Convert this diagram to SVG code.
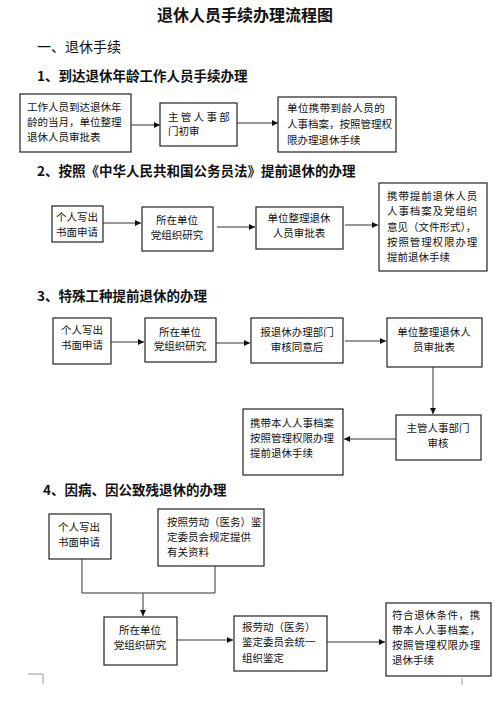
<svg xmlns="http://www.w3.org/2000/svg" width="500" height="702" viewBox="0 0 500 702">
<style>
.bx{fill:#fff;stroke:#222;stroke-width:1.2}
.t{font-family:"Noto Sans CJK SC","Liberation Sans",sans-serif;font-size:10.5px;fill:#111}
.c{text-anchor:middle}
.h{font-family:"Noto Sans CJK SC","Liberation Serif",serif;font-weight:bold;font-size:13.5px;fill:#111}
.ln{fill:none;stroke:#333;stroke-width:1}
</style>
<defs>
<marker id="ar" viewBox="0 0 10 10" refX="10" refY="5" markerWidth="6" markerHeight="6" markerUnits="userSpaceOnUse" orient="auto">
<path d="M0,0 L10,5 L0,10 z" fill="#111"/>
</marker>
</defs>
<rect width="500" height="702" fill="#fff"/>
<text x="245" y="21" text-anchor="middle" font-family="Noto Sans CJK SC,sans-serif" font-weight="bold" font-size="16" fill="#111">退休人员手续办理流程图</text>
<text x="37" y="52" font-family="Noto Sans CJK SC,sans-serif" font-size="14" fill="#111">一、退休手续</text>
<text class="h" x="37" y="81">1、到达退休年龄工作人员手续办理</text>
<text class="h" x="37" y="176">2、按照《中华人民共和国公务员法》提前退休的办理</text>
<text class="h" x="37" y="301">3、特殊工种提前退休的办理</text>
<text class="h" x="43" y="495">4、因病、因公致残退休的办理</text>

<g id="s1n1"><rect class="bx" x="20" y="94" width="111" height="58"/>
<text class="t" x="27" y="111">工作人员到达退休年</text><text class="t" x="27" y="126">龄的当月，单位整理</text><text class="t" x="27" y="141">退休人员审批表</text></g>
<g id="s1n2"><rect class="bx" x="160" y="103" width="77" height="43"/>
<text class="t" x="168" y="121" letter-spacing="2.3">主管人事部</text><text class="t" x="168" y="135">门初审</text></g>
<g id="s1n3"><rect class="bx" x="278" y="97" width="118" height="55"/>
<text class="t" x="287" y="112" letter-spacing="0.4">单位携带到龄人员的</text><text class="t" x="287" y="128">人事档案，按照管理权</text><text class="t" x="287" y="144">限办理退休手续</text></g>

<g id="s2n1"><rect class="bx" x="52" y="206" width="51" height="36"/>
<text class="t c" x="77" y="221">个人写出</text><text class="t c" x="77" y="236">书面申请</text></g>
<g id="s2n2"><rect class="bx" x="142" y="207" width="71" height="44"/>
<text class="t c" x="177" y="224">所在单位</text><text class="t c" x="177" y="239">党组织研究</text></g>
<g id="s2n3"><rect class="bx" x="256" y="207" width="87" height="42"/>
<text class="t c" x="299" y="222">单位整理退休</text><text class="t c" x="299" y="237">人员审批表</text></g>
<g id="s2n4"><rect class="bx" x="379" y="183" width="108" height="88"/>
<text class="t" x="387" y="200" letter-spacing="0.9">携带提前退休人员</text><text class="t" x="387" y="215" letter-spacing="0.9">人事档案及党组织</text><text class="t" x="387" y="231">意见（文件形式），</text><text class="t" x="387" y="246" letter-spacing="0.9">按照管理权限办理</text><text class="t" x="387" y="261">提前退休手续</text></g>

<g id="s3n1"><rect class="bx" x="53" y="318" width="58" height="46"/>
<text class="t c" x="82" y="334">个人写出</text><text class="t c" x="82" y="349">书面申请</text></g>
<g id="s3n2"><rect class="bx" x="145" y="318" width="71" height="44"/>
<text class="t c" x="180" y="336">所在单位</text><text class="t c" x="180" y="350">党组织研究</text></g>
<g id="s3n3"><rect class="bx" x="251" y="318" width="92" height="45"/>
<text class="t c" x="297" y="336">报退休办理部门</text><text class="t c" x="297" y="351">审核同意后</text></g>
<g id="s3n4"><rect class="bx" x="387" y="318" width="95" height="49"/>
<text class="t c" x="434" y="336">单位整理退休人</text><text class="t c" x="434" y="351">员审批表</text></g>
<g id="s3n5"><rect class="bx" x="396" y="415" width="85" height="45"/>
<text class="t c" x="438" y="432">主管人事部门</text><text class="t c" x="438" y="447">审核</text></g>
<g id="s3n6"><rect class="bx" x="243" y="409" width="100" height="66"/>
<text class="t" x="250" y="427">携带本人人事档案</text><text class="t" x="250" y="442">按照管理权限办理</text><text class="t" x="250" y="457">提前退休手续</text></g>

<g id="s4n1"><rect class="bx" x="49" y="514" width="62" height="45"/>
<text class="t c" x="79" y="531">个人写出</text><text class="t c" x="79" y="546">书面申请</text></g>
<g id="s4n2"><rect class="bx" x="158" y="509" width="106" height="57"/>
<text class="t" x="167" y="526">按照劳动（医务）鉴</text><text class="t" x="167" y="541">定委员会规定提供</text><text class="t" x="167" y="556">有关资料</text></g>
<g id="s4n3"><rect class="bx" x="104" y="617" width="73" height="48"/>
<text class="t c" x="140" y="634">所在单位</text><text class="t c" x="140" y="649">党组织研究</text></g>
<g id="s4n4"><rect class="bx" x="234" y="616" width="93" height="55"/>
<text class="t" x="242" y="631">报劳动（医务）</text><text class="t" x="242" y="646">鉴定委员会统一</text><text class="t" x="242" y="662">组织鉴定</text></g>
<g id="s4n5"><rect class="bx" x="386" y="603" width="105" height="73"/>
<text class="t" x="392" y="619" letter-spacing="0.6">符合退休条件，携</text><text class="t" x="392" y="634" letter-spacing="0.6">带本人人事档案，</text><text class="t" x="392" y="649" letter-spacing="0.6">按照管理权限办理</text><text class="t" x="392" y="664">退休手续</text></g>

<g id="connectors">
<line class="ln" x1="131" y1="125" x2="160" y2="125" marker-end="url(#ar)"/>
<line class="ln" x1="237" y1="123" x2="278" y2="123" marker-end="url(#ar)"/>
<line class="ln" x1="103" y1="223" x2="141" y2="223" marker-end="url(#ar)"/>
<line class="ln" x1="217" y1="227" x2="255" y2="227" marker-end="url(#ar)"/>
<line class="ln" x1="345" y1="225" x2="378" y2="225" marker-end="url(#ar)"/>
<line class="ln" x1="111" y1="342" x2="144" y2="342" marker-end="url(#ar)"/>
<line class="ln" x1="216" y1="343" x2="250" y2="343" marker-end="url(#ar)"/>
<line class="ln" x1="345" y1="341" x2="386" y2="341" marker-end="url(#ar)"/>
<line class="ln" x1="433" y1="367" x2="433" y2="414" marker-end="url(#ar)"/>
<line class="ln" x1="396" y1="439" x2="344" y2="439" marker-end="url(#ar)"/>
<polyline class="ln" points="82,559 82,593 215,593 215,566"/>
<line class="ln" x1="143" y1="593" x2="143" y2="616" marker-end="url(#ar)"/>
<line class="ln" x1="177" y1="640" x2="233" y2="640" marker-end="url(#ar)"/>
<line class="ln" x1="327" y1="642" x2="385" y2="642" marker-end="url(#ar)"/>
</g>
<polyline points="28,674 43,674 43,684" fill="none" stroke="#999" stroke-width="1"/>
<line x1="462" y1="678" x2="462" y2="685" stroke="#999" stroke-width="1"/>
</svg>
